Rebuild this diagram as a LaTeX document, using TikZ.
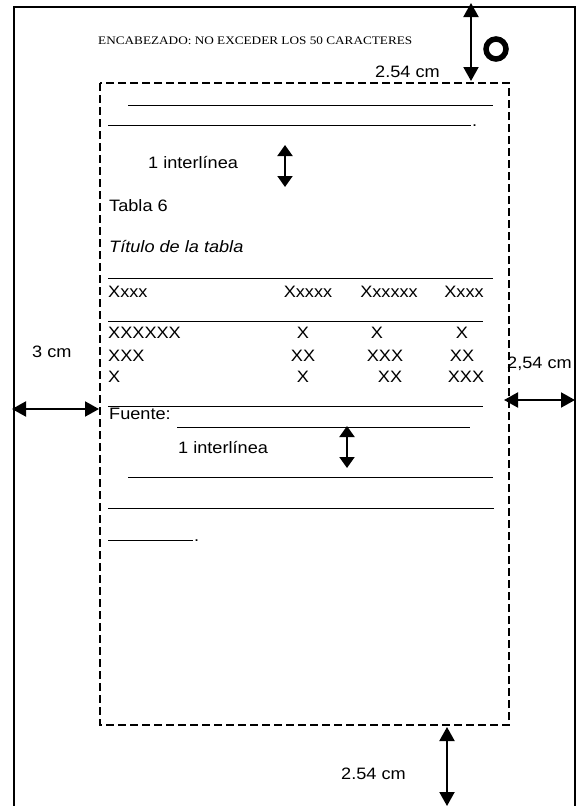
\documentclass[tikz,border=0pt]{standalone}
\usepackage{fontspec}
\setmainfont{Liberation Sans}[FakeStretch=1.1]
\newfontfamily\encfont{Liberation Serif}[FakeStretch=1.15]
\usepackage{tikz}
\usetikzlibrary{arrows.meta}

\begin{document}
\begin{tikzpicture}[x=1pt, y=-1pt, inner sep=0pt]
    \tikzstyle{txt}=[anchor=base west, font=\fontsize{16.5}{19}\selectfont]
    \tikzstyle{cell}=[anchor=base, font=\fontsize{16.5}{19}\selectfont]
    \tikzstyle{rule}=[line width=0.8pt]
    \tikzstyle{dim}=[{Triangle[length=14pt,width=15pt]}-{Triangle[length=14pt,width=15pt]}, line width=2pt]
    \tikzstyle{gap}=[{Triangle[length=11pt,width=15pt]}-{Triangle[length=11pt,width=15pt]}, line width=2pt]

    \useasboundingbox (0,0) rectangle (579,806);

    % hoja y margenes
    \draw[line width=1.8pt] (14,815) -- (14,7) -- (575,7) -- (575,815);
    \draw[line width=1.5pt, dash pattern=on 8pt off 4pt] (100,83) rectangle (509,725);
    \draw[line width=5.5pt] (496,49) circle (10);

    \node[anchor=base west, font=\encfont\fontsize{11.5}{13}\selectfont] (enc) at (98,44) {ENCABEZADO: NO EXCEDER LOS 50 CARACTERES};
    \node[txt] (cmtop) at (375,77) {2.54 cm};
    \node[txt] (cmleft) at (32,357) {3 cm};
    \node[txt] (cmright) at (507,368) {2,54 cm};
    \node[txt] (cmbot) at (341,779) {2.54 cm};

    % parrafo
    \draw[rule] (128,105) -- (493,105);
    \draw[rule] (108,125) -- (471,125);
    \node[txt] (dot1) at (472,126) {.};
    \node[txt] (int1) at (148,168) {1 interlínea};

    % tabla
    \node[txt] (tabla) at (109,211) {Tabla 6};
    \node[txt] (titulo) at (109,252) {\itshape Título de la tabla};
    \draw[rule] (108,278) -- (493,278);
    \node[txt] (h0) at (108,297) {Xxxx};
    \node[cell] (h1) at (308,297) {Xxxxx};
    \node[cell] (h2) at (389,297) {Xxxxxx};
    \node[cell] (h3) at (464,297) {Xxxx};
    \draw[rule] (108,321) -- (483,321);
    \node[txt] (a0) at (108,338) {XXXXXX};
    \node[cell] (a1) at (303,338) {X};
    \node[cell] (a2) at (377,338) {X};
    \node[cell] (a3) at (462,338) {X};
    \node[txt] (b0) at (108,361) {XXX};
    \node[cell] (b1) at (303,361) {XX};
    \node[cell] (b2) at (385,361) {XXX};
    \node[cell] (b3) at (462,361) {XX};
    \node[txt] (c0) at (108,382) {X};
    \node[cell] (c1) at (303,382) {X};
    \node[cell] (c2) at (390,382) {XX};
    \node[cell] (c3) at (466,382) {XXX};
    \draw[rule] (108,406) -- (483,406);
    \node[txt] (fuente) at (109,419) {Fuente:};
    \draw[rule] (177,427) -- (470,427);
    \node[txt] (int2) at (178,453) {1 interlínea};

    % parrafo siguiente
    \draw[rule] (128,477) -- (493,477);
    \draw[rule] (108,508) -- (494,508);
    \draw[rule] (108,540) -- (193,540);
    \node[txt] (dot2) at (194,541) {.};

    % flechas de medida
    \coordinate (topA) at (471,3);
    \coordinate (topB) at (471,81);
    \coordinate (i1A) at (285,145);
    \coordinate (i1B) at (285,187);
    \coordinate (leftA) at (12,409);
    \coordinate (leftB) at (99,409);
    \coordinate (rightA) at (504,400);
    \coordinate (rightB) at (575,400);
    \coordinate (i2A) at (347,426);
    \coordinate (i2B) at (347,468);
    \coordinate (botA) at (447,727);
    \coordinate (botB) at (447,806);

    \draw[dim] (topA) -- (topB);
    \draw[gap] (i1A) -- (i1B);
    \draw[dim] (leftA) -- (leftB);
    \draw[dim] (rightA) -- (rightB);
    \draw[gap] (i2A) -- (i2B);
    \draw[dim] (botA) -- (botB);
\end{tikzpicture}
\end{document}
